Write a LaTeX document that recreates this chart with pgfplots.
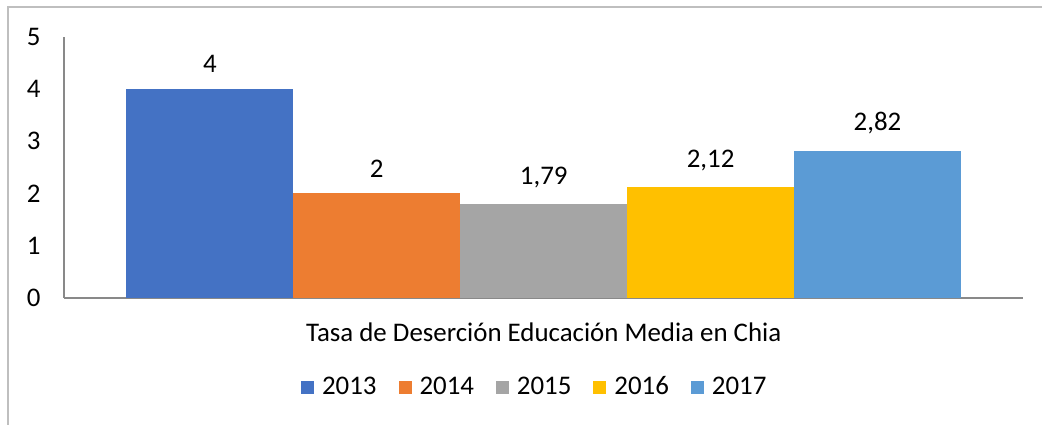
\documentclass[border=0pt]{standalone}
\usepackage{fontspec}
\setmainfont{Carlito}
\usepackage{pgfplots}
\pgfplotsset{compat=1.18}

\definecolor{c13}{HTML}{4472C4}
\definecolor{c14}{HTML}{ED7D31}
\definecolor{c15}{HTML}{A5A5A5}
\definecolor{c16}{HTML}{FFC000}
\definecolor{c17}{HTML}{5B9BD5}
\definecolor{axisgray}{HTML}{898989}
\definecolor{framegray}{HTML}{BFBFBF}

\begin{document}
\fontsize{13.5}{16}\selectfont
\begin{tikzpicture}[x=1bp,y=1bp]
% page and chart frame (1px = 0.5bp)
\path (-32,-63.5) rectangle (489.5,149);
\draw[framegray, line width=0.6bp] (-28,-63.5) -- (-28,145.5) -- (489.5,145.5);
\begin{axis}[
    at={(0,0)}, anchor=south west,
    scale only axis,
    width=480bp, height=130.5bp,
    ybar=0pt, bar width=83.5bp,
    xmin=-0.5, xmax=0.5,
    ymin=0, ymax=5,
    ytick={0,...,5},
    xtick=\empty,
    major tick length=0pt,
    axis x line*=bottom, axis y line*=left,
    axis line style={axisgray, line width=0.7bp},
    separate axis lines,
    x axis line style={-}, y axis line style={-},
    /pgf/number format/assume math mode=true,
    yticklabel style={font=\fontsize{13.5}{16}\selectfont, anchor=east, xshift=-7bp},
    xlabel={Tasa de Deserción Educación Media en Chia},
    every axis x label/.style={at={(axis description cs:0.5,0)}, anchor=center, yshift=-17bp, font=\fontsize{13.5}{16}\selectfont},
    nodes near coords={\pgfmathprintnumber[use comma, precision=2]{\pgfplotspointmeta}},
    every node near coord/.append style={font=\fontsize{13.5}{16}\selectfont, anchor=south, yshift=3.5bp, black},
    legend columns=5,
    legend style={at={(0.4917,-0.345)}, anchor=center, draw=none, fill=none,
        font=\fontsize{13.5}{16}\selectfont,
        /tikz/every even column/.append style={column sep=9bp}},
    legend image code/.code={\fill[#1] (0bp,-3.2bp) rectangle (6.5bp,3.3bp); \path (8.5bp,0bp);},
]
\addplot[fill=c13, draw=none] coordinates {(0,4)};
\addplot[fill=c14, draw=none] coordinates {(0,2)};
\addplot[fill=c15, draw=none] coordinates {(0,1.79)};
\addplot[fill=c16, draw=none] coordinates {(0,2.12)};
\addplot[fill=c17, draw=none] coordinates {(0,2.82)};
\legend{2013,2014,2015,2016,2017}
\end{axis}
\end{tikzpicture}
\end{document}
